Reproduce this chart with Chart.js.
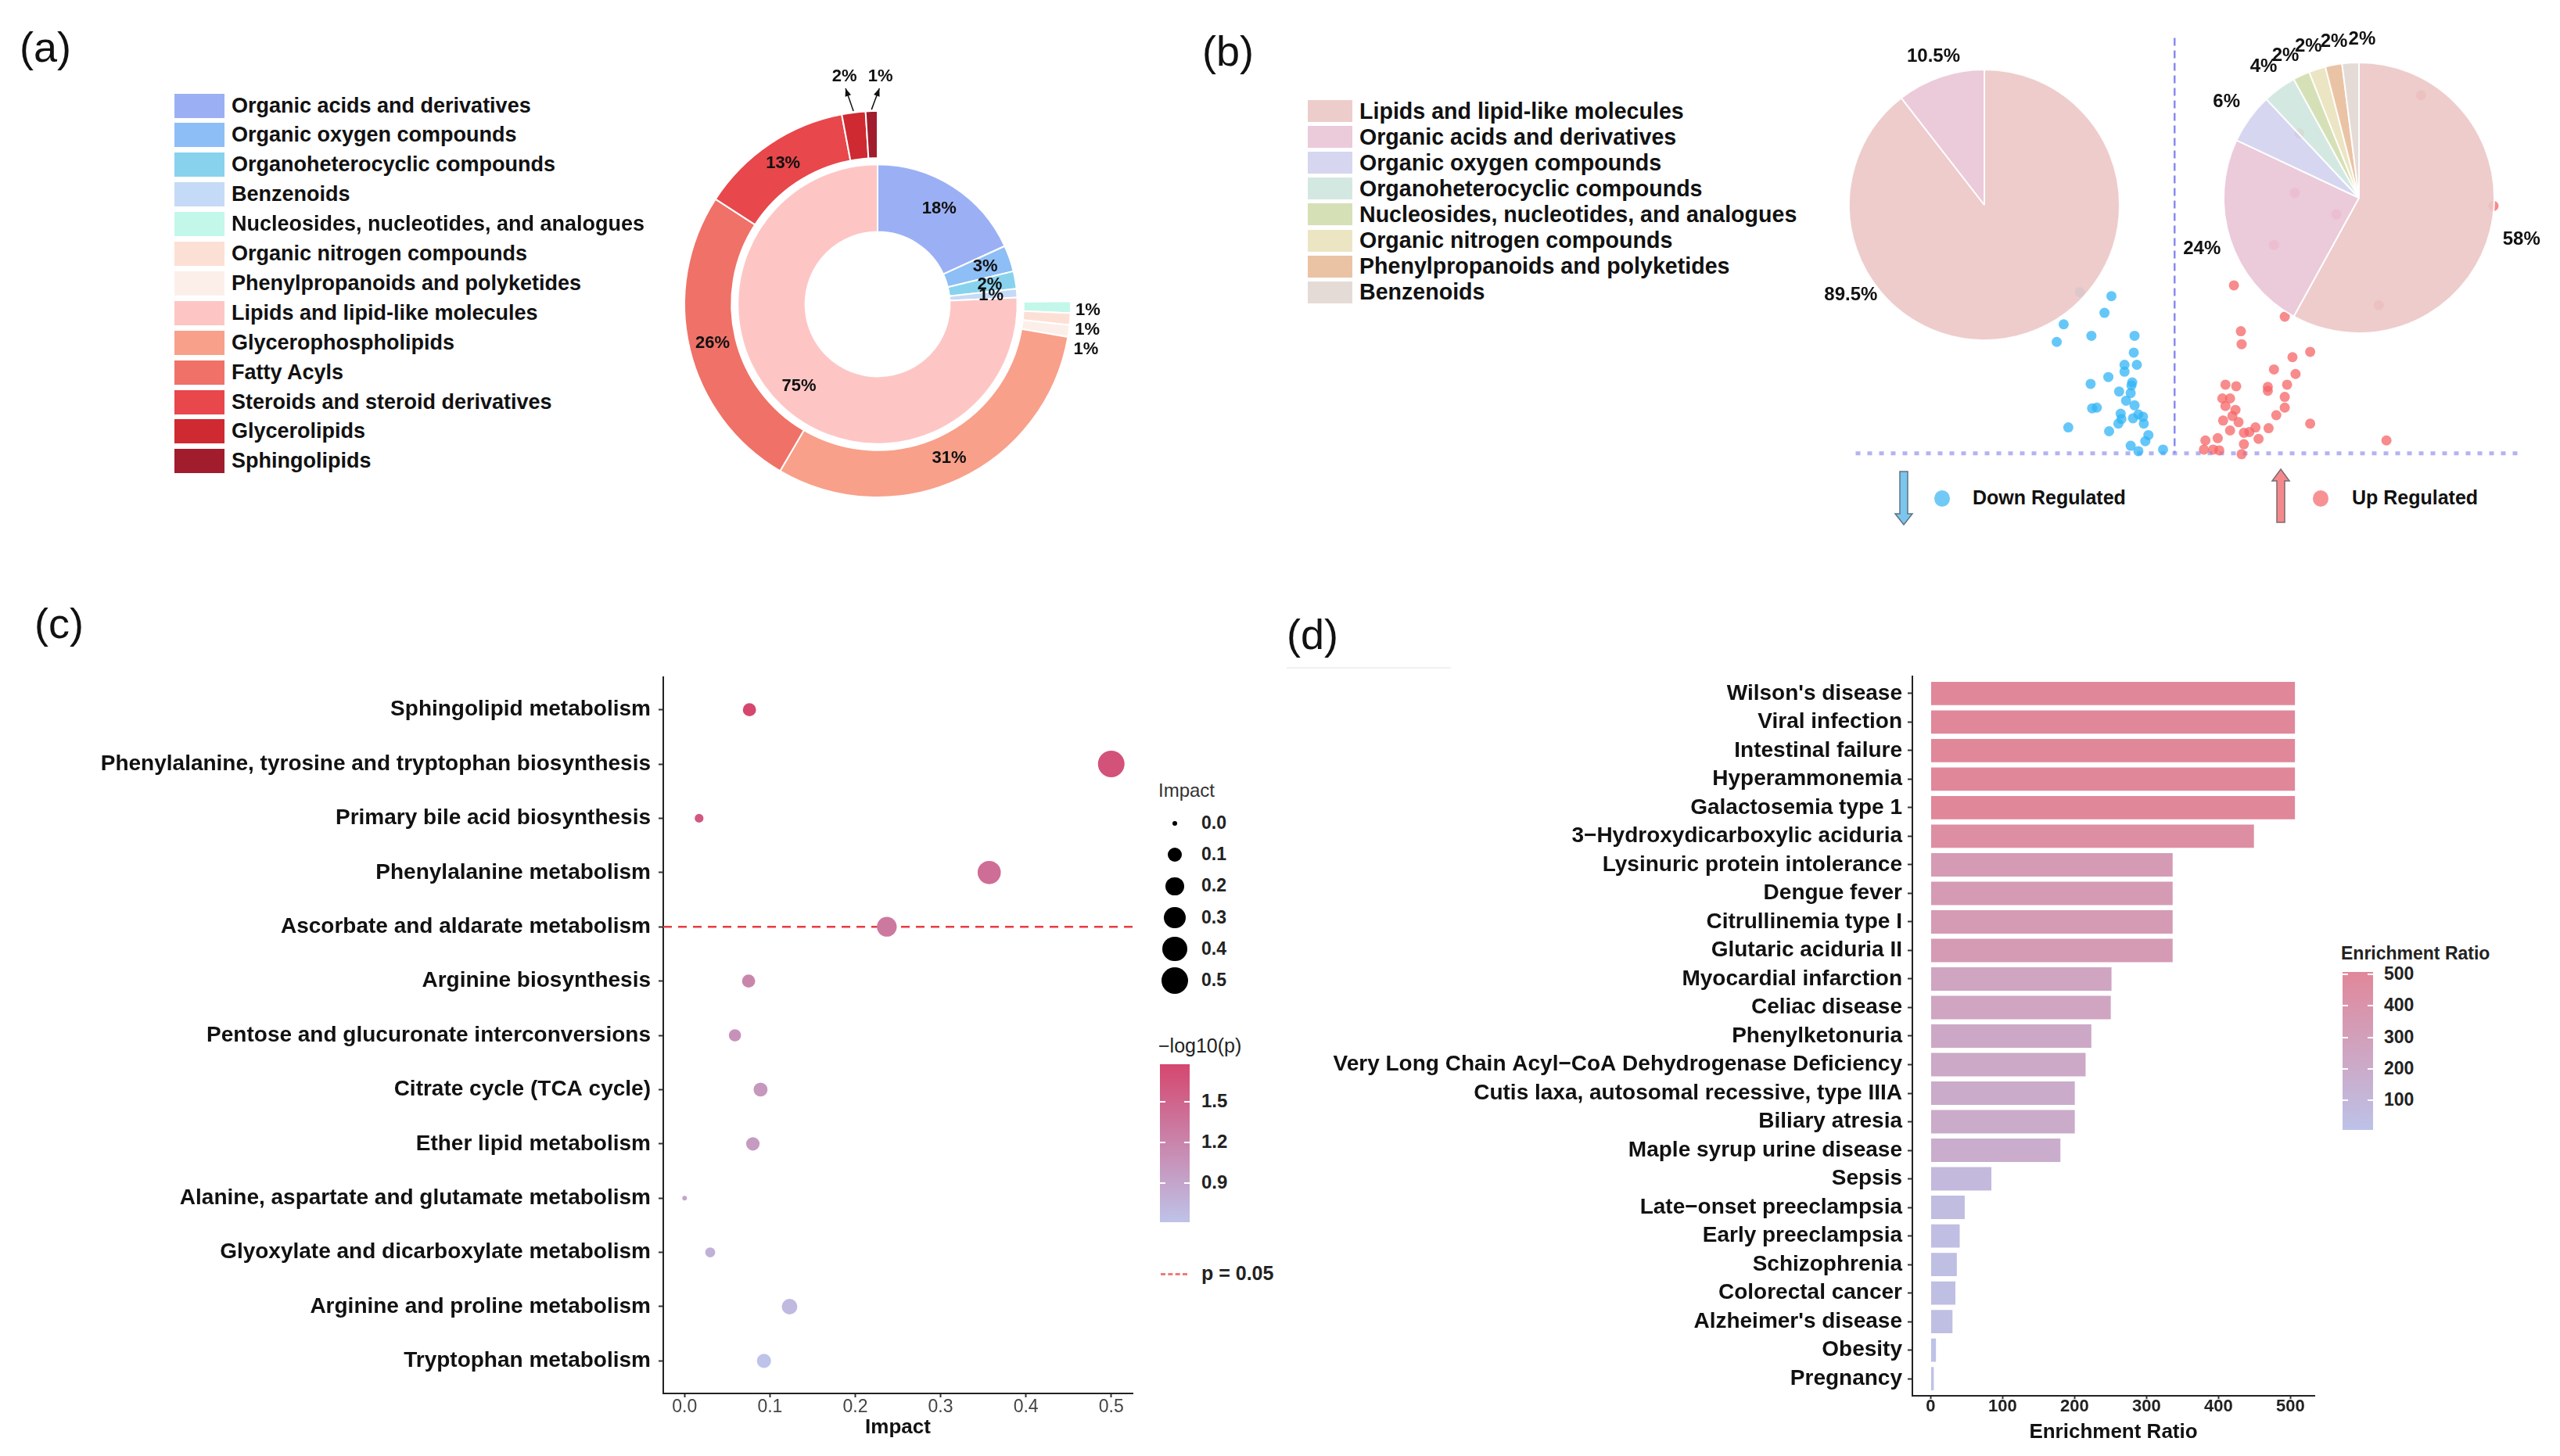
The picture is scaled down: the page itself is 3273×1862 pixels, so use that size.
<!DOCTYPE html>
<html lang="en">
<head>
<meta charset="UTF-8">
<title>Metabolite classes and enrichment</title>
<script src="https://cdn.jsdelivr.net/npm/chart.js"></script>
<style>
  body { margin: 0; background: #fff; font-family: "Liberation Sans", Arial, sans-serif; color: #111; }
  #page { position: relative; width: 3273px; height: 1862px; overflow: hidden; background: #fff; }
  canvas { position: absolute; }
  .tag { position: absolute; font-size: 54px; line-height: 54px; }
  .row { position: absolute; display: flex; align-items: center; white-space: nowrap; font-weight: bold; line-height: 1; }
  .sw { display: inline-block; margin-right: 9px; }
  .txt { position: absolute; white-space: nowrap; line-height: 1; }
  .dot { position: absolute; border-radius: 50%; }
</style>
</head>
<body>
<div id="page">
  <div class="tag" style="left:25px; top:33px">(a)</div>
  <div class="tag" style="left:1537px; top:38px">(b)</div>
  <div class="tag" style="left:44px; top:770px">(c)</div>
  <div class="tag" style="left:1645px; top:784px">(d)</div>
  <div style="position:absolute; left:1645px; top:853px; width:210px; height:2px; background:#f0f0f0"></div>

  <canvas id="donutA" width="640" height="640" style="left:802px; top:69px"></canvas>
  <canvas id="scatterB" width="862" height="558" style="left:2366px; top:42px; z-index:1"></canvas>
  <canvas id="pieDown" width="500" height="500" style="left:2287px; top:12px; z-index:2"></canvas>
  <canvas id="pieUp" width="500" height="500" style="left:2766px; top:3px; z-index:2"></canvas>
  <canvas id="dotC" width="1470" height="1042" style="left:0px; top:820px"></canvas>
  <canvas id="barD" width="1330" height="1042" style="left:1640px; top:820px"></canvas>

  <svg style="position:absolute; left:2421px; top:601px" width="26" height="72">
    <polygon points="8,2 18,2 18,56 24,56 13,70 2,56 8,56" fill="#7cc6ee" stroke="#5d7383" stroke-width="1.5"/>
  </svg>
  <div class="dot" style="left:2473px; top:627px; width:20px; height:21px; background:#72c9f6"></div>
  <div class="txt" style="left:2522px; top:624px; font-size:25px; font-weight:bold">Down Regulated</div>
  <svg style="position:absolute; left:2903px; top:598px" width="26" height="72">
    <polygon points="13,2 24,17 18,17 18,70 8,70 8,17 2,17" fill="#f4898b" stroke="#7d6a72" stroke-width="1.5"/>
  </svg>
  <div class="dot" style="left:2957px; top:627px; width:20px; height:21px; background:#f79294"></div>
  <div class="txt" style="left:3007px; top:624px; font-size:25px; font-weight:bold">Up Regulated</div>
</div>

<script>
// ---------- (a) class composition donut ----------
const superClasses = ['Organic acids and derivatives', 'Organic oxygen compounds', 'Organoheterocyclic compounds', 'Benzenoids', 'Lipids and lipid-like molecules'];
const superPct = [18, 3, 2, 1, 75];
const subClasses = ['Nucleosides, nucleotides, and analogues', 'Organic nitrogen compounds', 'Phenylpropanoids and polyketides', 'Glycerophospholipids', 'Fatty Acyls', 'Steroids and steroid derivatives', 'Glycerolipids', 'Sphingolipids'];
const subPct = [1, 1, 1, 31, 26, 13, 2, 1];
const subGap = 25; // unfilled start of the outer ring
const legendA = ['Organic acids and derivatives', 'Organic oxygen compounds', 'Organoheterocyclic compounds', 'Benzenoids', 'Nucleosides, nucleotides, and analogues', 'Organic nitrogen compounds', 'Phenylpropanoids and polyketides', 'Lipids and lipid-like molecules', 'Glycerophospholipids', 'Fatty Acyls', 'Steroids and steroid derivatives', 'Glycerolipids', 'Sphingolipids'];
const colorsA = {
  'Organic acids and derivatives': '#9bb0f4',
  'Organic oxygen compounds': '#8ebef6',
  'Organoheterocyclic compounds': '#88d2ee',
  'Benzenoids': '#c5daf6',
  'Nucleosides, nucleotides, and analogues': '#c2f7ea',
  'Organic nitrogen compounds': '#fde0d5',
  'Phenylpropanoids and polyketides': '#fcefea',
  'Lipids and lipid-like molecules': '#fdc6c5',
  'Glycerophospholipids': '#f8a08a',
  'Fatty Acyls': '#f07167',
  'Steroids and steroid derivatives': '#e8474b',
  'Glycerolipids': '#cf2a31',
  'Sphingolipids': '#a11c2c'
};

// ---------- (b) up / down regulated pies and volcano ----------
const pieClasses = ['Lipids and lipid-like molecules', 'Organic acids and derivatives', 'Organic oxygen compounds', 'Organoheterocyclic compounds', 'Nucleosides, nucleotides, and analogues', 'Organic nitrogen compounds', 'Phenylpropanoids and polyketides', 'Benzenoids'];
const downPct = [89.5, 10.5, 0, 0, 0, 0, 0, 0];
const upPct = [58, 24, 6, 4, 2, 2, 2, 2];
const colorsB = ['#edcdcb', '#ebcada', '#d6d6f0', '#d4e8e2', '#d6e0b6', '#ece5c3', '#eac3a5', '#e5dbd6'];
const downFC = [-0.82, -0.91, -1.44, -1.53, -1.08, -0.52, -0.53, -0.65, -0.49, -0.65, -0.86, -1.09, -0.55, -0.56, -0.72, -0.57, -0.63, -0.52, -1.07, -1.01, -0.70, -0.54, -0.47, -0.41, -0.40, -0.69, -0.73, -1.38, -0.85, -0.34, -0.38, -0.57, -0.47, -0.15, -1.23];
const downLogP = [3.36, 3.14, 2.99, 2.76, 2.84, 2.84, 2.62, 2.46, 2.46, 2.37, 2.30, 2.21, 2.23, 2.19, 2.11, 2.09, 1.99, 1.93, 1.89, 1.90, 1.82, 1.76, 1.81, 1.78, 1.69, 1.75, 1.69, 1.64, 1.59, 1.54, 1.46, 1.40, 1.33, 1.35, 3.41];
const upFC = [0.77, 1.43, 0.86, 0.87, 1.76, 1.53, 1.29, 1.57, 0.66, 0.80, 1.21, 1.46, 1.21, 0.62, 0.72, 1.43, 0.66, 0.79, 1.43, 0.75, 1.32, 0.63, 0.83, 1.76, 1.22, 1.05, 0.72, 0.90, 0.97, 1.09, 0.56, 0.40, 0.90, 0.38, 0.50, 0.58, 0.87, 2.75, 4.14, 3.20, 2.65, 1.62, 1.56, 2.10, 1.29];
const upLogP = [3.50, 3.09, 2.90, 2.73, 2.63, 2.56, 2.40, 2.34, 2.20, 2.18, 2.17, 2.20, 2.12, 2.02, 2.02, 2.04, 1.92, 1.87, 1.90, 1.79, 1.80, 1.73, 1.71, 1.69, 1.63, 1.64, 1.60, 1.57, 1.58, 1.49, 1.50, 1.47, 1.42, 1.35, 1.35, 1.34, 1.29, 1.47, 4.54, 5.99, 3.24, 5.49, 4.71, 4.43, 4.03];
const fcCut = 0;
const logPCut = 1.3;

// ---------- (c) pathway impact ----------
const pathways = ['Sphingolipid metabolism', 'Phenylalanine, tyrosine and tryptophan biosynthesis', 'Primary bile acid biosynthesis', 'Phenylalanine metabolism', 'Ascorbate and aldarate metabolism', 'Arginine biosynthesis', 'Pentose and glucuronate interconversions', 'Citrate cycle (TCA cycle)', 'Ether lipid metabolism', 'Alanine, aspartate and glutamate metabolism', 'Glyoxylate and dicarboxylate metabolism', 'Arginine and proline metabolism', 'Tryptophan metabolism'];
const pathImpact = [0.076, 0.500, 0.017, 0.357, 0.237, 0.075, 0.059, 0.089, 0.080, 0.0, 0.030, 0.123, 0.093];
const pathLogP = [1.78, 1.68, 1.62, 1.42, 1.31, 1.19, 1.07, 1.02, 0.99, 0.88, 0.78, 0.70, 0.61];
const impactTicks = [0, 0.1, 0.2, 0.3, 0.4, 0.5];
const logPTicks = [0.9, 1.2, 1.5];

// ---------- (d) disease enrichment ----------
const diseases = ["Wilson's disease", 'Viral infection', 'Intestinal failure', 'Hyperammonemia', 'Galactosemia type 1', '3\u2212Hydroxydicarboxylic aciduria', 'Lysinuric protein intolerance', 'Dengue fever', 'Citrullinemia type I', 'Glutaric aciduria II', 'Myocardial infarction', 'Celiac disease', 'Phenylketonuria', 'Very Long Chain Acyl\u2212CoA Dehydrogenase Deficiency', 'Cutis laxa, autosomal recessive, type IIIA', 'Biliary atresia', 'Maple syrup urine disease', 'Sepsis', 'Late\u2212onset preeclampsia', 'Early preeclampsia', 'Schizophrenia', 'Colorectal cancer', "Alzheimer's disease", 'Obesity', 'Pregnancy'];
const enrichRatio = [508, 508, 508, 508, 508, 451, 338, 338, 338, 338, 253, 252, 225, 217, 202, 202, 182, 86, 49, 42, 38, 36, 32, 9, 6];
const ratioTicks = [0, 100, 200, 300, 400, 500];

// ---------- helpers ----------
const FONT = '"Liberation Sans", Arial, sans-serif';
Chart.defaults.font.family = FONT;
Chart.defaults.color = '#111';
const base = { responsive: false, animation: false, devicePixelRatio: 1, events: [] };
const page = document.getElementById('page');

function hexRgb(h) { const n = parseInt(h.slice(1), 16); return [n >> 16, (n >> 8) & 255, n & 255]; }
function mix(lo, hi, t) {
  const a = hexRgb(lo), b = hexRgb(hi);
  t = Math.max(0, Math.min(1, t));
  return 'rgb(' + a.map((c, i) => Math.round(c + (b[i] - c) * t)).join(',') + ')';
}
// translucent fill that reads as `hex` over white
function overWhite(hex, a) {
  return 'rgba(' + hexRgb(hex).map(c => Math.max(0, Math.round((c - 255 * (1 - a)) / a))).join(',') + ',' + a + ')';
}
function addDiv(cls, style, text) {
  const d = document.createElement('div');
  d.className = cls;
  d.style.cssText = style;
  if (text != null) d.textContent = text;
  page.appendChild(d);
  return d;
}

const logPMin = Math.min(...pathLogP), logPMax = Math.max(...pathLogP);
const logPLow = '#bec3e9', logPHigh = '#d5476f';
const logPColor = v => mix(logPLow, logPHigh, (v - logPMin) / (logPMax - logPMin));
const impactRadius = v => 3 + 14 * Math.sqrt(v / 0.5);
const ratioMin = Math.min(...enrichRatio), ratioMax = Math.max(...enrichRatio);
const ratioLow = '#bdc2e8', ratioHigh = '#e1879a';
const ratioColor = v => mix(ratioLow, ratioHigh, (v - ratioMin) / (ratioMax - ratioMin));

// ---------- legends (HTML) ----------
legendA.forEach((name, i) => {
  const r = addDiv('row', `left:223px; top:${135 + i * 37.9 - 16}px; height:32px; font-size:27px`);
  const s = document.createElement('span');
  s.className = 'sw';
  s.style.cssText = `width:64px; height:31px; background:${colorsA[name]}`;
  r.appendChild(s);
  r.appendChild(document.createTextNode(name));
});
pieClasses.forEach((name, i) => {
  const r = addDiv('row', `left:1672px; top:${142 + i * 33.1 - 15}px; height:30px; font-size:28.6px`);
  const s = document.createElement('span');
  s.className = 'sw';
  s.style.cssText = `width:57px; height:28px; background:${colorsB[i]}`;
  r.appendChild(s);
  r.appendChild(document.createTextNode(name));
});

// (c) legends
addDiv('txt', 'left:1481px; top:999px; font-size:24px; color:#333', 'Impact');
impactTicks.forEach((v, i) => {
  const cy = 1053 + i * 40.2, r = impactRadius(v);
  addDiv('dot', `left:${1502 - r}px; top:${cy - r}px; width:${2 * r}px; height:${2 * r}px; background:#000`);
  addDiv('txt', `left:1536px; top:${cy - 12}px; font-size:23px; font-weight:bold; color:#222`, v.toFixed(1));
});
addDiv('txt', 'left:1481px; top:1325px; font-size:25px; color:#222', '\u2212log10(p)');
const cbC = { top: 1361, h: 202, left: 1483, w: 38 };
addDiv('txt', `left:${cbC.left}px; top:${cbC.top}px; width:${cbC.w}px; height:${cbC.h}px; background:linear-gradient(${logPColor(logPMax)}, ${logPColor(logPMin)})`);
logPTicks.forEach(v => {
  const y = cbC.top + (logPMax - v) / (logPMax - logPMin) * cbC.h;
  addDiv('txt', `left:${cbC.left}px; top:${y - 1}px; width:7px; height:2px; background:#fff`);
  addDiv('txt', `left:${cbC.left + cbC.w - 7}px; top:${y - 1}px; width:7px; height:2px; background:#fff`);
  addDiv('txt', `left:1536px; top:${y - 13}px; font-size:24px; font-weight:bold; color:#222`, v.toFixed(1));
});
addDiv('txt', 'left:1484px; top:1628px; width:34px; height:0; border-top:3px dashed #f07a7a');
addDiv('txt', 'left:1536px; top:1616px; font-size:25px; font-weight:bold; color:#222', 'p = 0.05');

// (d) legend
addDiv('txt', 'left:2993px; top:1208px; font-size:23px; font-weight:bold; color:#222', 'Enrichment Ratio');
const cbD = { top: 1243, h: 202, left: 2995, w: 39 };
addDiv('txt', `left:${cbD.left}px; top:${cbD.top}px; width:${cbD.w}px; height:${cbD.h}px; background:linear-gradient(${ratioColor(ratioMax)}, ${ratioColor(ratioMin)})`);
ratioTicks.slice(1).forEach(v => {
  const y = cbD.top + (ratioMax - v) / (ratioMax - ratioMin) * cbD.h;
  addDiv('txt', `left:${cbD.left}px; top:${y - 1}px; width:7px; height:2px; background:#fff`);
  addDiv('txt', `left:${cbD.left + cbD.w - 7}px; top:${y - 1}px; width:7px; height:2px; background:#fff`);
  addDiv('txt', `left:3048px; top:${y - 12}px; font-size:23px; font-weight:bold; color:#222`, String(v));
});

// ---------- (a) donut ----------
const ringLabels = {
  id: 'ringLabels',
  afterDatasetsDraw(chart) {
    const ctx = chart.ctx;
    const props = ['x', 'y', 'startAngle', 'endAngle', 'innerRadius', 'outerRadius'];
    ctx.save();
    ctx.font = 'bold 22px ' + FONT;
    ctx.fillStyle = '#111';
    ctx.textBaseline = 'middle';
    ctx.textAlign = 'center';
    chart.getDatasetMeta(2).data.forEach((arc, i) => {
      const p = arc.getProps(props, true), m = (p.startAngle + p.endAngle) / 2;
      const r = (p.innerRadius + p.outerRadius) / 2 + 10;
      ctx.fillText(superPct[i] + '%', p.x + r * Math.cos(m), p.y + r * Math.sin(m));
    });
    let lastRight = -Infinity;
    const tops = [];
    chart.getDatasetMeta(0).data.forEach((arc, j) => {
      if (j === 0) return;
      const v = subPct[j - 1], p = arc.getProps(props, true), m = (p.startAngle + p.endAngle) / 2;
      if (v >= 5) {
        const r = (p.innerRadius + p.outerRadius) / 2;
        ctx.textAlign = 'center';
        ctx.fillText(v + '%', p.x + r * Math.cos(m), p.y + r * Math.sin(m));
      } else if (Math.cos(m) > 0.5) {
        let ly = p.y + (p.outerRadius + 8) * Math.sin(m) + 4;
        ly = Math.max(ly, lastRight + 25);
        lastRight = ly;
        ctx.textAlign = 'left';
        ctx.fillText(v + '%', p.x + (p.outerRadius + 6) * Math.cos(m), ly);
      } else {
        tops.push({ v, ax: p.x + (p.outerRadius + 2) * Math.cos(m), ay: p.y + (p.outerRadius + 2) * Math.sin(m), top: p.y - p.outerRadius });
      }
    });
    if (tops.length) {
      const cx = tops.reduce((s, t) => s + t.ax, 0) / tops.length;
      tops.sort((a, b) => a.ax - b.ax).forEach((t, k) => {
        const lx = cx + (k - (tops.length - 1) / 2) * 46, ly = t.top - 44;
        ctx.textAlign = 'center';
        ctx.fillText(t.v + '%', lx, ly);
        const ex = lx + (t.ax - lx) * 0.12, ey = ly + 15;
        const ang = Math.atan2(ey - t.ay, ex - t.ax);
        ctx.strokeStyle = '#111';
        ctx.lineWidth = 1.5;
        ctx.beginPath(); ctx.moveTo(t.ax, t.ay); ctx.lineTo(ex, ey); ctx.stroke();
        ctx.beginPath();
        ctx.moveTo(ex, ey);
        ctx.lineTo(ex - 10 * Math.cos(ang) + 4 * Math.sin(ang), ey - 10 * Math.sin(ang) - 4 * Math.cos(ang));
        ctx.lineTo(ex - 10 * Math.cos(ang) - 4 * Math.sin(ang), ey - 10 * Math.sin(ang) + 4 * Math.cos(ang));
        ctx.closePath(); ctx.fill();
      });
    }
    ctx.restore();
  }
};

new Chart(document.getElementById('donutA'), {
  type: 'doughnut',
  data: {
    datasets: [
      { data: [subGap, ...subPct], weight: 60,
        backgroundColor: ['rgba(0,0,0,0)', ...subClasses.map(n => colorsA[n])],
        borderColor: '#fff', borderWidth: [0, ...subPct.map(() => 2)] },
      { data: [1], weight: 8, backgroundColor: 'rgba(0,0,0,0)', borderWidth: 0 },
      { data: superPct, weight: 86,
        backgroundColor: superClasses.map(n => colorsA[n]),
        borderColor: '#fff', borderWidth: 2 }
    ]
  },
  options: { ...base, cutout: '37.4%', layout: { padding: 72 },
    plugins: { legend: { display: false }, tooltip: { enabled: false } } },
  plugins: [ringLabels]
});

// ---------- (b) pies ----------
const pieLabels = {
  id: 'pieLabels',
  afterDatasetsDraw(chart, args, opts) {
    const ctx = chart.ctx, vals = chart.data.datasets[0].data;
    ctx.save();
    ctx.font = 'bold 24px ' + FONT;
    ctx.fillStyle = '#111';
    ctx.textAlign = 'center';
    ctx.textBaseline = 'middle';
    chart.getDatasetMeta(0).data.forEach((arc, i) => {
      if (!vals[i]) return;
      const p = arc.getProps(['x', 'y', 'startAngle', 'endAngle', 'outerRadius'], true);
      let m = (p.startAngle + p.endAngle) / 2;
      if (opts.angles && opts.angles[i] != null) m = (opts.angles[i] - 90) * Math.PI / 180;
      const r = p.outerRadius * opts.dist[i];
      ctx.fillText(vals[i] + '%', p.x + r * Math.cos(m), p.y + r * Math.sin(m));
    });
    ctx.restore();
  }
};
function pieChart(id, values, labelOpts) {
  return new Chart(document.getElementById(id), {
    type: 'pie',
    data: { labels: pieClasses, datasets: [{ data: values,
      backgroundColor: colorsB.map(c => overWhite(c, 0.9)),
      borderColor: 'rgba(255,255,255,0.9)', borderWidth: 2 }] },
    options: { ...base, layout: { padding: 76 },
      plugins: { legend: { display: false }, tooltip: { enabled: false }, pieLabels: labelOpts } },
    plugins: [pieLabels]
  });
}
// label placement (degrees clockwise from top) where the text was pushed apart
pieChart('pieDown', downPct, { dist: [1.19, 1.16], angles: [236, null] });
pieChart('pieUp', upPct, { dist: [1.24, 1.22, 1.21, 1.2, 1.18, 1.18, 1.17, 1.17],
  angles: [null, null, null, null, 332.6, 341.5, 350.9, 1.1] });

const cutLines = {
  id: 'cutLines',
  beforeDatasetsDraw(chart) {
    const { ctx, chartArea: a, scales: { x, y } } = chart;
    const yc = y.getPixelForValue(logPCut), xc = x.getPixelForValue(fcCut);
    ctx.save();
    ctx.strokeStyle = '#b3b3f3'; ctx.lineWidth = 5; ctx.setLineDash([6, 9]);
    ctx.beginPath(); ctx.moveTo(a.left, yc); ctx.lineTo(a.right, yc); ctx.stroke();
    ctx.strokeStyle = '#8a8af0'; ctx.lineWidth = 2.5; ctx.setLineDash([10, 6]);
    ctx.beginPath(); ctx.moveTo(xc, a.top); ctx.lineTo(xc, yc); ctx.stroke();
    ctx.restore();
  }
};
new Chart(document.getElementById('scatterB'), {
  type: 'scatter',
  data: { datasets: [
    { data: downFC.map((v, i) => ({ x: v, y: downLogP[i] })), pointRadius: 6.5,
      pointBackgroundColor: 'rgba(50,180,245,0.75)', pointBorderWidth: 0, clip: false },
    { data: upFC.map((v, i) => ({ x: v, y: upLogP[i] })), pointRadius: 6.5,
      pointBackgroundColor: 'rgba(245,100,102,0.75)', pointBorderWidth: 0, clip: false }
  ] },
  options: { ...base, layout: { padding: 0 },
    plugins: { legend: { display: false }, tooltip: { enabled: false } },
    scales: { x: { display: false, min: -4.14, max: 4.48 }, y: { display: false, min: 1.16, max: 6.74 } } },
  plugins: [cutLines]
});

// ---------- (c) pathway dot plot ----------
const axisGrid = { drawOnChartArea: false, drawTicks: true, tickLength: 5, tickWidth: 2, tickColor: '#333' };
const axisBorder = { display: true, color: '#222', width: 2 };
const pLine = {
  id: 'pLine',
  beforeDatasetsDraw(chart) {
    const { ctx, chartArea: a, scales: { y } } = chart;
    let k = 0;
    pathLogP.forEach((v, i) => { if (Math.abs(v - logPCut) < Math.abs(pathLogP[k] - logPCut)) k = i; });
    const yy = y.getPixelForValue(k);
    ctx.save();
    ctx.strokeStyle = '#ea3b40'; ctx.lineWidth = 2.5; ctx.setLineDash([11, 8]);
    ctx.beginPath(); ctx.moveTo(a.left, yy); ctx.lineTo(a.right, yy); ctx.stroke();
    ctx.restore();
  }
};
new Chart(document.getElementById('dotC'), {
  type: 'scatter',
  data: { datasets: [{
    data: pathways.map((p, i) => ({ x: pathImpact[i], y: i })),
    pointRadius: c => impactRadius(pathImpact[c.dataIndex]),
    pointBackgroundColor: c => logPColor(pathLogP[c.dataIndex]),
    pointBorderWidth: 0, clip: false
  }] },
  options: { ...base,
    layout: { padding: { left: 0, top: 46, right: 22, bottom: 0 } },
    plugins: { legend: { display: false }, tooltip: { enabled: false } },
    scales: {
      x: { type: 'linear', min: -0.025, max: 0.525,
        afterBuildTicks: s => { s.ticks = impactTicks.map(v => ({ value: v })); },
        afterFit: s => { s.height = 80; },
        ticks: { callback: v => Number(v).toFixed(1), font: { size: 23 }, color: '#444', padding: -1, maxRotation: 0, autoSkip: false },
        grid: axisGrid, border: axisBorder,
        title: { display: true, text: 'Impact', font: { size: 26, weight: 'bold' }, color: '#111', padding: { top: 0, bottom: 21 } } },
      y: { type: 'linear', reverse: true, min: -0.6, max: pathways.length - 0.4,
        afterBuildTicks: s => { s.ticks = pathways.map((_, i) => ({ value: i })); },
        afterFit: s => { s.width = 848; },
        ticks: { callback: v => pathways[v], font: { size: 28, weight: 'bold' }, color: '#111', padding: 10, autoSkip: false },
        grid: { ...axisGrid, tickLength: 6 }, border: axisBorder }
    } },
  plugins: [pLine]
});

// ---------- (d) enrichment bars ----------
new Chart(document.getElementById('barD'), {
  type: 'bar',
  data: { datasets: [{ data: diseases.map((d, i) => ({ x: enrichRatio[i], y: i })),
    backgroundColor: c => ratioColor(enrichRatio[c.dataIndex]),
    borderColor: 'rgba(255,255,255,0.6)', borderWidth: 1.5,
    barPercentage: 0.9, categoryPercentage: 1 }] },
  options: { ...base, indexAxis: 'y',
    layout: { padding: { left: 0, top: 45, right: 11, bottom: 0 } },
    plugins: { legend: { display: false }, tooltip: { enabled: false } },
    scales: {
      x: { type: 'linear', min: -0.05 * ratioMax, max: 1.05 * ratioMax,
        afterBuildTicks: s => { s.ticks = ratioTicks.map(v => ({ value: v })); },
        afterFit: s => { s.height = 77; },
        ticks: { font: { size: 22, weight: 'bold' }, color: '#222', padding: -3, maxRotation: 0, autoSkip: false },
        grid: { ...axisGrid, tickLength: 4 }, border: axisBorder,
        title: { display: true, text: 'Enrichment Ratio', font: { size: 26, weight: 'bold' }, color: '#111', padding: { top: 0, bottom: 15 } } },
      y: { type: 'linear', reverse: true, offset: false, min: -0.6, max: diseases.length - 0.4,
        afterBuildTicks: s => { s.ticks = diseases.map((_, i) => ({ value: i })); },
        afterFit: s => { s.width = 805; },
        ticks: { callback: v => diseases[v], font: { size: 28, weight: 'bold' }, color: '#111', padding: 7, autoSkip: false },
        grid: { ...axisGrid, tickLength: 6, offset: false }, border: axisBorder }
    } }
});
</script>
</body>
</html>
